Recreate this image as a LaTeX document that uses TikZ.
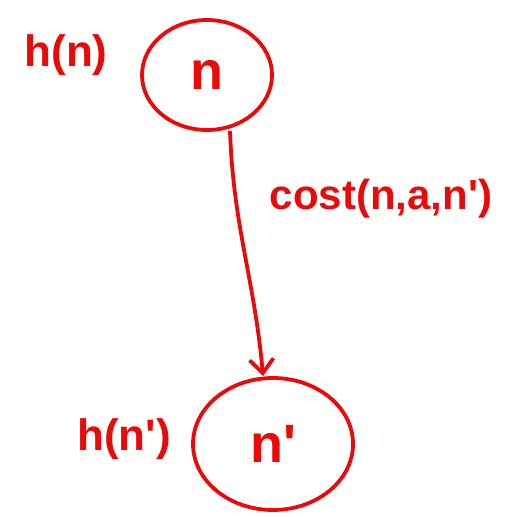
\documentclass[tikz,border=0pt]{standalone}
\usepackage{fontspec}
\setmainfont{Liberation Sans}
\usetikzlibrary{arrows.meta,shapes.geometric}
\definecolor{pen}{RGB}{235,10,10}
\newcommand{\pr}{\textquotesingle}
\begin{document}
\begin{tikzpicture}[x=1pt,y=1pt,
  state/.style={draw=pen,line width=3.8pt,ellipse,inner sep=0pt,text=pen,font=\bfseries\fontsize{54}{60}\selectfont},
  lbl/.style={text=pen,font=\bfseries\fontsize{44}{50}\selectfont},
  conn/.style={draw=pen,line width=3.8pt,-{Straight Barb[length=14pt,width=24pt,line width=3.8pt]}}]
\useasboundingbox (0,0) rectangle (514,517);
\node[state,minimum width=130pt,minimum height=110pt] (n) at (207,442) {n};
\node[state,minimum width=160pt,minimum height=132pt] (np) at (273,73) {n\pr};
\node[lbl] (hn) at (66,462) {h(n)};
\node[lbl] (hnp) at (124,78) {h(n\pr)};
\node[lbl,font=\bfseries\fontsize{42}{48}\selectfont] (cost) at (381,318) {cost(n,a,n\pr)};
\draw[conn] (n.south) ++(23,1) coordinate (s) to[out=-88,in=95] ([xshift=-10pt]np.north);
\end{tikzpicture}
\end{document}
